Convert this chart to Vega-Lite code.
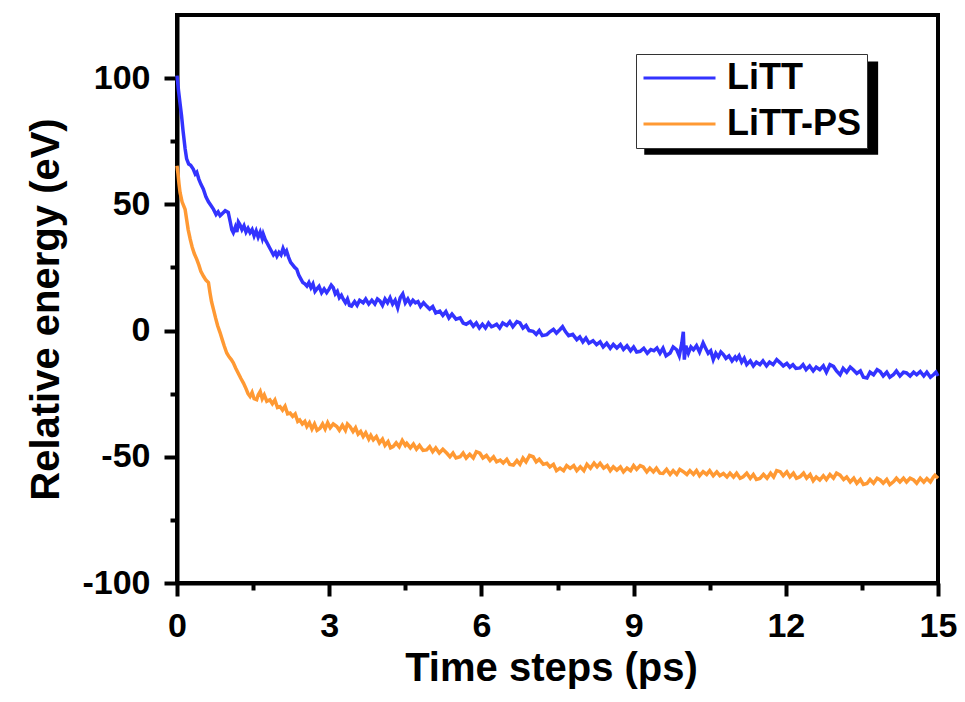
{
  "$schema": "https://vega.github.io/schema/vega-lite/v6.json",
  "width": 761,
  "height": 568,
  "autosize": {"type": "none"},
  "padding": {"left": 177, "top": 15, "right": 27, "bottom": 119},
  "background": "white",
  "config": {
    "view": {"stroke": "black", "strokeWidth": 4},
    "font": "Liberation Sans",
    "axis": {
      "domainColor": "black", "domainWidth": 4, "tickColor": "black", "tickWidth": 4,
      "labelFont": "Liberation Sans", "labelFontWeight": "bold", "labelFontSize": 34, "labelColor": "black",
      "titleFont": "Liberation Sans", "titleFontWeight": "bold", "titleFontSize": 40, "titleColor": "black",
      "grid": false, "labelFlush": false, "labelOverlap": false
    },
    "legend": {
      "labelFont": "Liberation Sans", "labelFontWeight": "bold", "labelFontSize": 36, "labelColor": "black"
    }
  },
  "resolve": {"axis": {"x": "independent", "y": "independent"}},
  "datasets": {
    "litt": [
      {"t":0,"v":101},{"t":0.03,"v":95},{"t":0.06,"v":90},{"t":0.09,"v":85},{"t":0.12,"v":79},{"t":0.16,"v":72},{"t":0.19,"v":68},{"t":0.23,"v":66},{"t":0.27,"v":65.5},{"t":0.32,"v":64},{"t":0.36,"v":62},{"t":0.39,"v":62.7},{"t":0.43,"v":60},{"t":0.47,"v":58},{"t":0.52,"v":56},{"t":0.57,"v":53},{"t":0.62,"v":51},{"t":0.67,"v":49.5},{"t":0.72,"v":48},{"t":0.77,"v":46},{"t":0.81,"v":47},{"t":0.85,"v":45.5},{"t":0.9,"v":46.5},{"t":0.95,"v":47.5},{"t":1.01,"v":46.8},{"t":1.05,"v":43},{"t":1.08,"v":40},{"t":1.11,"v":38.8},{"t":1.15,"v":41},{"t":1.18,"v":39},{"t":1.21,"v":43},{"t":1.24,"v":42},{"t":1.28,"v":40},{"t":1.32,"v":41.5},{"t":1.36,"v":39},{"t":1.4,"v":40.5},{"t":1.44,"v":38.8},{"t":1.48,"v":40},{"t":1.52,"v":37.5},{"t":1.56,"v":39.5},{"t":1.6,"v":37},{"t":1.64,"v":39},{"t":1.68,"v":36.5},{"t":1.7,"v":38.2},{"t":1.74,"v":36},{"t":1.77,"v":34.9},{"t":1.82,"v":33},{"t":1.86,"v":31.5},{"t":1.9,"v":30},{"t":1.94,"v":31},{"t":1.97,"v":29.5},{"t":2.01,"v":31},{"t":2.05,"v":30},{"t":2.09,"v":32.5},{"t":2.13,"v":30.5},{"t":2.16,"v":31.5},{"t":2.2,"v":29},{"t":2.24,"v":27},{"t":2.28,"v":26},{"t":2.32,"v":25},{"t":2.36,"v":24.3},{"t":2.4,"v":22},{"t":2.44,"v":20.5},{"t":2.48,"v":19},{"t":2.52,"v":18.5},{"t":2.56,"v":17.6},{"t":2.6,"v":19},{"t":2.64,"v":17},{"t":2.68,"v":18.5},{"t":2.72,"v":15.5},{"t":2.75,"v":16.3},{"t":2.8,"v":17.5},{"t":2.85,"v":15},{"t":2.9,"v":16.5},{"t":2.95,"v":15},{"t":3.0,"v":16.5},{"t":3.04,"v":18},{"t":3.08,"v":17},{"t":3.12,"v":14.5},{"t":3.16,"v":15.5},{"t":3.2,"v":13},{"t":3.24,"v":14},{"t":3.28,"v":12.3},{"t":3.32,"v":11},{"t":3.36,"v":12.5},{"t":3.4,"v":10},{"t":3.44,"v":9.7},{"t":3.5,"v":11.5},{"t":3.55,"v":10},{"t":3.6,"v":12},{"t":3.67,"v":11},{"t":3.72,"v":12.5},{"t":3.78,"v":10.5},{"t":3.84,"v":12},{"t":3.9,"v":10.5},{"t":3.95,"v":12.5},{"t":4.0,"v":11.7},{"t":4.05,"v":10},{"t":4.1,"v":12.5},{"t":4.15,"v":11},{"t":4.2,"v":13},{"t":4.25,"v":10.5},{"t":4.3,"v":12},{"t":4.35,"v":9},{"t":4.4,"v":13},{"t":4.45,"v":14.5},{"t":4.5,"v":11},{"t":4.55,"v":12.5},{"t":4.6,"v":10.5},{"t":4.65,"v":12},{"t":4.7,"v":11},{"t":4.75,"v":11.5},{"t":4.8,"v":9.5},{"t":4.86,"v":11},{"t":4.92,"v":9.7},{"t":4.98,"v":8.5},{"t":5.04,"v":9.5},{"t":5.1,"v":7},{"t":5.18,"v":7.7},{"t":5.24,"v":6},{"t":5.3,"v":7.5},{"t":5.36,"v":5},{"t":5.42,"v":6.5},{"t":5.5,"v":4.5},{"t":5.58,"v":5},{"t":5.64,"v":3},{"t":5.7,"v":2.5},{"t":5.78,"v":3.5},{"t":5.84,"v":1.7},{"t":5.9,"v":3},{"t":5.96,"v":1},{"t":6.02,"v":2.5},{"t":6.08,"v":1},{"t":6.14,"v":3},{"t":6.2,"v":1.5},{"t":6.23,"v":1.7},{"t":6.3,"v":2.5},{"t":6.36,"v":1},{"t":6.42,"v":3},{"t":6.5,"v":2},{"t":6.56,"v":3.5},{"t":6.62,"v":1.5},{"t":6.7,"v":3.5},{"t":6.76,"v":3},{"t":6.82,"v":1},{"t":6.88,"v":2},{"t":6.94,"v":0},{"t":7.02,"v":-0.3},{"t":7.08,"v":-1.5},{"t":7.14,"v":0},{"t":7.2,"v":-2},{"t":7.29,"v":-1.6},{"t":7.35,"v":-0.5},{"t":7.42,"v":0.5},{"t":7.48,"v":-1},{"t":7.55,"v":0.4},{"t":7.6,"v":1.5},{"t":7.66,"v":-0.5},{"t":7.72,"v":-2},{"t":7.8,"v":-1.5},{"t":7.88,"v":-3.6},{"t":7.94,"v":-2.5},{"t":8.0,"v":-4.5},{"t":8.06,"v":-3},{"t":8.12,"v":-5},{"t":8.2,"v":-4},{"t":8.27,"v":-5.6},{"t":8.34,"v":-4.5},{"t":8.4,"v":-6.5},{"t":8.47,"v":-5},{"t":8.54,"v":-7},{"t":8.6,"v":-5.5},{"t":8.67,"v":-6.9},{"t":8.74,"v":-5.5},{"t":8.8,"v":-7.5},{"t":8.87,"v":-6},{"t":8.94,"v":-8},{"t":9.0,"v":-6.5},{"t":9.06,"v":-8.5},{"t":9.13,"v":-8.2},{"t":9.2,"v":-7},{"t":9.27,"v":-9},{"t":9.34,"v":-7.5},{"t":9.4,"v":-8},{"t":9.46,"v":-6.9},{"t":9.52,"v":-9},{"t":9.58,"v":-7},{"t":9.64,"v":-10},{"t":9.72,"v":-8.9},{"t":9.78,"v":-6.5},{"t":9.85,"v":-7.6},{"t":9.9,"v":-10},{"t":9.95,"v":-5},{"t":9.98,"v":-0.5},{"t":10.0,"v":-11.5},{"t":10.03,"v":-6},{"t":10.08,"v":-9},{"t":10.13,"v":-6.5},{"t":10.18,"v":-7.6},{"t":10.24,"v":-6},{"t":10.3,"v":-8.5},{"t":10.37,"v":-4.9},{"t":10.42,"v":-7},{"t":10.47,"v":-9},{"t":10.52,"v":-8},{"t":10.57,"v":-11.5},{"t":10.62,"v":-9},{"t":10.67,"v":-10.5},{"t":10.72,"v":-8.5},{"t":10.77,"v":-9.5},{"t":10.82,"v":-11},{"t":10.88,"v":-10},{"t":10.94,"v":-12},{"t":11.0,"v":-10.5},{"t":11.03,"v":-11.5},{"t":11.08,"v":-10},{"t":11.13,"v":-12.5},{"t":11.18,"v":-11},{"t":11.23,"v":-13.5},{"t":11.3,"v":-12},{"t":11.36,"v":-14},{"t":11.42,"v":-12.5},{"t":11.49,"v":-13.5},{"t":11.55,"v":-12},{"t":11.62,"v":-14},{"t":11.68,"v":-12.5},{"t":11.75,"v":-13.5},{"t":11.82,"v":-11.5},{"t":11.89,"v":-12.8},{"t":11.95,"v":-14},{"t":12.02,"v":-13},{"t":12.08,"v":-14.5},{"t":12.14,"v":-13.5},{"t":12.2,"v":-15},{"t":12.28,"v":-14.8},{"t":12.34,"v":-13.5},{"t":12.4,"v":-15.5},{"t":12.47,"v":-14},{"t":12.54,"v":-16},{"t":12.6,"v":-14.5},{"t":12.67,"v":-15.5},{"t":12.74,"v":-14},{"t":12.8,"v":-16.5},{"t":12.87,"v":-13.5},{"t":12.94,"v":-14.2},{"t":13.0,"v":-16},{"t":13.07,"v":-17.5},{"t":13.13,"v":-15},{"t":13.2,"v":-16.5},{"t":13.27,"v":-14.5},{"t":13.33,"v":-15.5},{"t":13.4,"v":-17},{"t":13.47,"v":-16},{"t":13.53,"v":-18.5},{"t":13.6,"v":-18.8},{"t":13.66,"v":-16.5},{"t":13.73,"v":-17.5},{"t":13.8,"v":-15.5},{"t":13.86,"v":-16.2},{"t":13.92,"v":-18},{"t":13.99,"v":-16.5},{"t":14.05,"v":-18.5},{"t":14.12,"v":-17.5},{"t":14.18,"v":-16},{"t":14.25,"v":-18},{"t":14.32,"v":-16.5},{"t":14.38,"v":-16.8},{"t":14.45,"v":-18},{"t":14.52,"v":-16.5},{"t":14.58,"v":-17.5},{"t":14.65,"v":-16.2},{"t":14.72,"v":-18},{"t":14.78,"v":-16.5},{"t":14.85,"v":-18.5},{"t":14.91,"v":-17.5},{"t":14.96,"v":-16.5},{"t":15.0,"v":-18}
    ],
    "ps": [
      {"t":0,"v":65.3},{"t":0.02,"v":62},{"t":0.04,"v":58},{"t":0.06,"v":54.7},{"t":0.1,"v":51},{"t":0.13,"v":49.5},{"t":0.16,"v":48},{"t":0.19,"v":44},{"t":0.22,"v":40},{"t":0.26,"v":36.2},{"t":0.3,"v":33},{"t":0.34,"v":30.5},{"t":0.39,"v":28.2},{"t":0.43,"v":26},{"t":0.47,"v":23.5},{"t":0.52,"v":21.6},{"t":0.57,"v":20},{"t":0.62,"v":19},{"t":0.65,"v":15},{"t":0.68,"v":11.5},{"t":0.72,"v":8.3},{"t":0.76,"v":5},{"t":0.8,"v":2},{"t":0.85,"v":-0.9},{"t":0.89,"v":-3.5},{"t":0.93,"v":-6},{"t":0.98,"v":-8.9},{"t":1.03,"v":-10.5},{"t":1.07,"v":-11.5},{"t":1.11,"v":-12.8},{"t":1.16,"v":-15},{"t":1.21,"v":-17},{"t":1.26,"v":-19},{"t":1.31,"v":-20.8},{"t":1.36,"v":-23},{"t":1.4,"v":-25},{"t":1.44,"v":-26.1},{"t":1.48,"v":-24.5},{"t":1.52,"v":-27},{"t":1.57,"v":-27.4},{"t":1.6,"v":-25.5},{"t":1.64,"v":-24.1},{"t":1.68,"v":-27},{"t":1.72,"v":-25.5},{"t":1.77,"v":-28},{"t":1.83,"v":-27.4},{"t":1.88,"v":-29},{"t":1.93,"v":-27.5},{"t":1.98,"v":-30.5},{"t":2.03,"v":-30.1},{"t":2.08,"v":-31.5},{"t":2.13,"v":-30},{"t":2.18,"v":-33},{"t":2.23,"v":-32.7},{"t":2.28,"v":-34},{"t":2.33,"v":-33},{"t":2.38,"v":-36},{"t":2.42,"v":-35.4},{"t":2.47,"v":-37},{"t":2.52,"v":-36},{"t":2.56,"v":-38},{"t":2.61,"v":-36.5},{"t":2.66,"v":-39},{"t":2.71,"v":-37},{"t":2.76,"v":-39.5},{"t":2.82,"v":-38.7},{"t":2.87,"v":-37},{"t":2.92,"v":-39},{"t":2.97,"v":-36.5},{"t":3.02,"v":-38.5},{"t":3.08,"v":-37},{"t":3.15,"v":-38},{"t":3.2,"v":-39.5},{"t":3.26,"v":-37.5},{"t":3.32,"v":-39.5},{"t":3.36,"v":-37},{"t":3.41,"v":-38},{"t":3.47,"v":-40},{"t":3.52,"v":-38.5},{"t":3.57,"v":-41},{"t":3.62,"v":-40},{"t":3.67,"v":-42},{"t":3.72,"v":-40.5},{"t":3.78,"v":-43},{"t":3.82,"v":-41.5},{"t":3.87,"v":-43.3},{"t":3.93,"v":-42},{"t":3.99,"v":-44.5},{"t":4.05,"v":-43},{"t":4.1,"v":-45.5},{"t":4.16,"v":-44},{"t":4.21,"v":-46.5},{"t":4.26,"v":-46},{"t":4.32,"v":-44.5},{"t":4.38,"v":-46},{"t":4.44,"v":-43.5},{"t":4.5,"v":-45.5},{"t":4.53,"v":-44.7},{"t":4.6,"v":-46.5},{"t":4.66,"v":-45},{"t":4.72,"v":-47},{"t":4.78,"v":-45.5},{"t":4.85,"v":-47.5},{"t":4.92,"v":-47.3},{"t":4.98,"v":-46},{"t":5.04,"v":-48},{"t":5.1,"v":-46.5},{"t":5.17,"v":-48.5},{"t":5.24,"v":-47},{"t":5.32,"v":-48.6},{"t":5.38,"v":-50},{"t":5.44,"v":-48.5},{"t":5.5,"v":-50.5},{"t":5.58,"v":-50},{"t":5.64,"v":-48.5},{"t":5.7,"v":-50.5},{"t":5.77,"v":-49},{"t":5.84,"v":-50.5},{"t":5.9,"v":-48},{"t":5.97,"v":-48.6},{"t":6.03,"v":-50.5},{"t":6.1,"v":-49.5},{"t":6.17,"v":-51.5},{"t":6.24,"v":-50},{"t":6.3,"v":-52},{"t":6.37,"v":-51.3},{"t":6.43,"v":-52.5},{"t":6.5,"v":-51},{"t":6.56,"v":-53},{"t":6.63,"v":-53.3},{"t":6.7,"v":-51.5},{"t":6.76,"v":-53},{"t":6.82,"v":-50.5},{"t":6.88,"v":-52},{"t":6.95,"v":-49.5},{"t":7.02,"v":-50},{"t":7.08,"v":-52},{"t":7.14,"v":-51},{"t":7.22,"v":-53},{"t":7.29,"v":-52.6},{"t":7.35,"v":-54},{"t":7.42,"v":-53},{"t":7.48,"v":-55.5},{"t":7.55,"v":-54.5},{"t":7.62,"v":-55.5},{"t":7.68,"v":-53.5},{"t":7.75,"v":-54.6},{"t":7.82,"v":-53.5},{"t":7.88,"v":-55.5},{"t":7.95,"v":-54},{"t":8.02,"v":-55.5},{"t":8.08,"v":-53},{"t":8.15,"v":-54.5},{"t":8.22,"v":-52.5},{"t":8.28,"v":-54},{"t":8.34,"v":-52.6},{"t":8.41,"v":-54.5},{"t":8.48,"v":-53.5},{"t":8.54,"v":-55.5},{"t":8.6,"v":-54},{"t":8.67,"v":-55.3},{"t":8.74,"v":-54},{"t":8.8,"v":-56},{"t":8.87,"v":-54.5},{"t":8.94,"v":-55.5},{"t":9.0,"v":-53.5},{"t":9.06,"v":-55},{"t":9.13,"v":-53.5},{"t":9.19,"v":-54},{"t":9.26,"v":-56},{"t":9.32,"v":-54.5},{"t":9.39,"v":-56},{"t":9.45,"v":-54.5},{"t":9.52,"v":-56.5},{"t":9.58,"v":-56.6},{"t":9.65,"v":-55},{"t":9.72,"v":-57},{"t":9.78,"v":-55.5},{"t":9.85,"v":-57},{"t":9.91,"v":-55},{"t":9.98,"v":-55.9},{"t":10.05,"v":-57},{"t":10.11,"v":-55.5},{"t":10.18,"v":-57},{"t":10.24,"v":-55.5},{"t":10.3,"v":-57.5},{"t":10.37,"v":-55.9},{"t":10.44,"v":-57},{"t":10.5,"v":-55.5},{"t":10.57,"v":-57.5},{"t":10.64,"v":-56},{"t":10.7,"v":-57.5},{"t":10.77,"v":-56.6},{"t":10.84,"v":-58},{"t":10.9,"v":-56.5},{"t":10.97,"v":-58},{"t":11.03,"v":-56.5},{"t":11.1,"v":-58.5},{"t":11.16,"v":-57.9},{"t":11.23,"v":-56.5},{"t":11.3,"v":-58.5},{"t":11.36,"v":-57},{"t":11.42,"v":-59},{"t":11.49,"v":-58.6},{"t":11.56,"v":-57},{"t":11.63,"v":-58.5},{"t":11.7,"v":-56.5},{"t":11.76,"v":-58},{"t":11.82,"v":-55.5},{"t":11.89,"v":-55.9},{"t":11.95,"v":-57.5},{"t":12.02,"v":-56},{"t":12.08,"v":-58},{"t":12.15,"v":-56.5},{"t":12.21,"v":-58.5},{"t":12.28,"v":-57.9},{"t":12.35,"v":-56.5},{"t":12.41,"v":-58.5},{"t":12.48,"v":-57},{"t":12.54,"v":-59.5},{"t":12.6,"v":-58},{"t":12.67,"v":-59.2},{"t":12.74,"v":-57.5},{"t":12.8,"v":-59},{"t":12.87,"v":-57},{"t":12.94,"v":-58.5},{"t":13.0,"v":-56.5},{"t":13.07,"v":-57.3},{"t":13.14,"v":-59},{"t":13.2,"v":-58},{"t":13.27,"v":-60},{"t":13.34,"v":-58.5},{"t":13.4,"v":-60.5},{"t":13.47,"v":-59},{"t":13.53,"v":-61},{"t":13.6,"v":-60.6},{"t":13.66,"v":-59},{"t":13.73,"v":-60.5},{"t":13.8,"v":-58.5},{"t":13.86,"v":-59.2},{"t":13.92,"v":-60.5},{"t":13.99,"v":-59},{"t":14.05,"v":-61},{"t":14.12,"v":-59.9},{"t":14.18,"v":-58.5},{"t":14.25,"v":-60},{"t":14.32,"v":-58.5},{"t":14.38,"v":-60},{"t":14.45,"v":-58.5},{"t":14.52,"v":-59.2},{"t":14.58,"v":-60.5},{"t":14.65,"v":-58.5},{"t":14.72,"v":-60},{"t":14.78,"v":-58.6},{"t":14.85,"v":-60},{"t":14.91,"v":-58},{"t":14.94,"v":-57.3},{"t":15.0,"v":-58.5}
    ],
    "shadow": [{"x1": 9.21, "x2": 13.82, "y1": 106.6, "y2": 69.6}]
  },
  "layer": [
    {
      "data": {"name": "shadow"},
      "mark": {"type": "rect", "color": "black"},
      "encoding": {
        "x": {"field": "x1", "type": "quantitative", "scale": {"domain": [0, 15], "nice": false, "zero": false},
              "axis": {"orient": "bottom", "values": [1.5, 4.5, 7.5, 10.5, 13.5], "labels": false, "tickSize": 7, "domain": false, "title": null}},
        "x2": {"field": "x2"},
        "y": {"field": "y1", "type": "quantitative", "scale": {"domain": [-100, 125], "nice": false, "zero": false},
              "axis": {"orient": "left", "values": [-75, -25, 25, 75], "labels": false, "tickSize": 7, "domain": false, "title": null}},
        "y2": {"field": "y2"}
      }
    },
    {
      "data": {"name": "ps"},
      "mark": {"type": "line", "strokeWidth": 3.5, "interpolate": "linear"},
      "encoding": {
        "x": {"field": "t", "type": "quantitative", "scale": {"domain": [0, 15], "nice": false, "zero": false},
              "axis": {"orient": "bottom", "values": [0, 3, 6, 9, 12, 15], "tickSize": 13, "labelPadding": 13, "title": "Time steps (ps)", "titleX": 374, "titleY": 97, "titleBaseline": "alphabetic"}},
        "y": {"field": "v", "type": "quantitative", "scale": {"domain": [-100, 125], "nice": false, "zero": false},
              "axis": {"orient": "left", "values": [-100, -50, 0, 50, 100], "labelExpr": "datum.value + ''", "tickSize": 13, "labelPadding": 14, "title": "Relative energy (eV)", "titleX": -119, "titleY": 294, "titleBaseline": "alphabetic"}},
        "color": {"datum": "LiTT-PS", "type": "nominal",
                  "scale": {"domain": ["LiTT", "LiTT-PS"], "range": ["#3333ff", "#ff9933"]},
                  "legend": {"title": null, "orient": "none", "legendX": 459, "legendY": 39, "symbolType": "stroke", "symbolSize": 5184, "symbolStrokeWidth": 3, "clipHeight": 36, "rowPadding": 10, "padding": 6, "strokeColor": "#333333", "fillColor": "white", "labelOffset": 10}}
      }
    },
    {
      "data": {"name": "litt"},
      "mark": {"type": "line", "strokeWidth": 3.5, "interpolate": "linear"},
      "encoding": {
        "x": {"field": "t", "type": "quantitative", "scale": {"domain": [0, 15], "nice": false, "zero": false}, "axis": null},
        "y": {"field": "v", "type": "quantitative", "scale": {"domain": [-100, 125], "nice": false, "zero": false}, "axis": null},
        "color": {"datum": "LiTT", "type": "nominal",
                  "scale": {"domain": ["LiTT", "LiTT-PS"], "range": ["#3333ff", "#ff9933"]}}
      }
    }
  ]
}
